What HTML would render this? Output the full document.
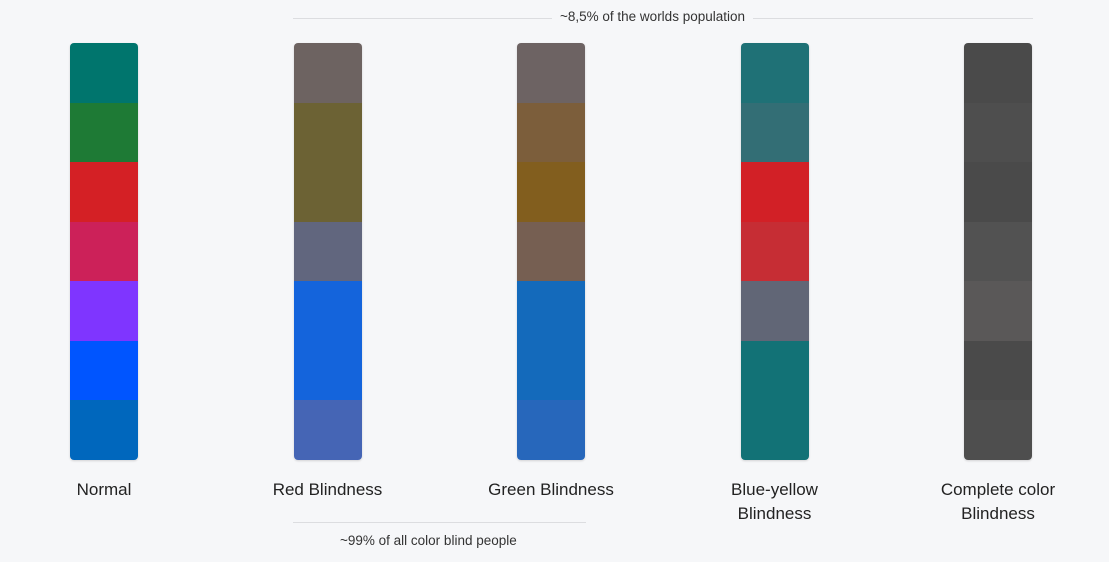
<!DOCTYPE html>
<html><head><meta charset="utf-8"><style>
body{margin:0;width:1109px;height:562px;background:#f6f7f9;font-family:"Liberation Sans",sans-serif;position:relative;overflow:hidden;color:#222}
.col{position:absolute;top:43px;width:68px;height:417px;border-radius:4px;overflow:hidden;box-shadow:0 1px 2px rgba(0,0,0,.15)}
.sw{height:59.57px}
.lbl{position:absolute;top:478px;width:200px;text-align:center;font-size:17px;line-height:24px;color:#222}
.line{position:absolute;height:1px;background:#dcdde0}
.note{position:absolute;font-size:13.5px;color:#333;background:#f6f7f9;padding:0 8px;text-align:center}
</style></head><body>
<div class="line" style="left:293px;top:18px;width:740px"></div>
<div class="note" style="left:552px;top:9px">~8,5% of the worlds population</div>
<div class="line" style="left:293px;top:522px;width:293px"></div>
<div class="note" style="left:332px;top:533px">~99% of all color blind people</div>
<div id="root"></div>
<script>
const categories=["Normal","Red Blindness","Green Blindness","Blue-yellow<br>Blindness","Complete color<br>Blindness"];
const normal=["#00756d","#1e7a35","#d42025","#cc2159","#7f35ff","#0055ff","#0067bd"];
const red=["#6d6361","#6c6234","#6c6234","#61667e","#1464dc","#1464dc","#4565b5"];
const green=["#6d6363","#7c5e3b","#825e1e","#765f52","#146abb","#146abb","#2767bb"];
const blueYellow=["#1f7176","#336e75","#d22026","#c62d34","#616676","#127276","#127276"];
const complete=["#4a4a4a","#4e4e4e","#4a4a4a","#525252","#5a5858","#4a4a4a","#4e4e4e"];
const series=[normal,red,green,blueYellow,complete];
const xs=i=>70+i*223.5;
const root=document.getElementById('root');
series.forEach((s,i)=>{
  const c=document.createElement('div');c.className='col';c.style.left=xs(i)+'px';
  
  
  s.forEach((col,j)=>{const d=document.createElement('div');d.className='sw';d.style.background=col;
    
    
    c.appendChild(d);});
  root.appendChild(c);
  const l=document.createElement('div');l.className='lbl';l.style.left=(xs(i)+34-100)+'px';l.innerHTML=categories[i];
  
  
  root.appendChild(l);
});
</script>
</body></html>
